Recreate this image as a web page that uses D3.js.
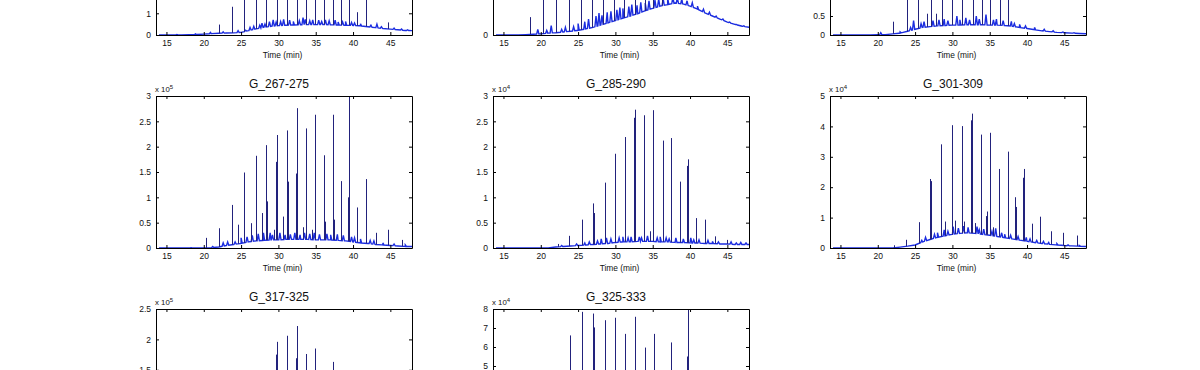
<!DOCTYPE html>
<html>
<head>
<meta charset="utf-8">
<script src="https://cdn.jsdelivr.net/npm/d3@7"></script>
<style>
  body { margin: 0; background: #fff; overflow: hidden; }
  svg text { font-family: "Liberation Sans", Arial, Helvetica, sans-serif; fill: #111; }
</style>
</head>
<body>
<svg id="chart" width="1200" height="370"></svg>
<script>
// ---- data ----
var baseTimes = [14,15,16,17,18,19,20,21,22,23,24,25,26,27,28,29,30,31,32,33,34,35,36,37,38,39,40,41,42,43,44,45,46,47,48];
var xTicks = [15, 20, 25, 30, 35, 40, 45];

var titles = ["G_211-219", "G_231-239", "G_253-259", "G_267-275", "G_285-290", "G_301-309", "G_317-325", "G_325-333"];
var yMax  = [7, 4, 4, 3, 3, 5, 2.5, 8];
var yStep = [1, 1, 0.5, 0.5, 0.5, 1, 0.5, 1];
var yExp  = [4, 4, 4, 5, 4, 4, 5, 4];

// panel A (top left)
var baseA = [0,0,0,0,0.01,0.02,0.04,0.06,0.08,0.09,0.1,0.12,0.2,0.28,0.35,0.4,0.43,0.45,0.46,0.47,0.48,0.48,0.48,0.47,0.46,0.45,0.44,0.42,0.38,0.34,0.3,0.27,0.24,0.21,0.2];
var noiseA = [[16.4,0.02],[18.9,0.05],[20.9,0.12],[22.6,0.15],[24.6,0.2],[25.6,0.22],[26.2,0.35],[26.7,0.4],[27.5,0.45],[27.8,0.55],[28.2,0.5],[28.8,0.62],[29.3,0.7],[29.7,0.6],[30.3,0.62],[30.7,0.72],[31.5,0.68],[32.0,0.62],[32.8,0.66],[33.3,0.8],[33.6,0.72],[34.2,0.66],[34.6,0.7],[35.4,0.68],[35.8,0.62],[36.3,0.7],[36.8,0.65],[37.6,0.68],[38.0,0.6],[38.6,0.6],[39.0,0.62],[39.8,0.58],[40.2,0.55],[41.0,0.52],[42.4,0.45],[43.2,0.5],[43.8,0.38],[45.5,0.32],[46.5,0.28],[47.3,0.24]];
var peaksA = [[22.0,0.48],[23.75,1.3],[25.36,2.4],[26.96,3.2],[28.39,3.9],[29.82,4.5],[31.16,5.0],[32.5,5.6],[33.75,5.2],[34.95,5.8],[36.07,4.8],[37.32,6.0],[38.35,4.2],[39.5,6.5],[40.54,1.05],[41.7,4.0],[44.7,0.58]];

// panel B (top middle)
var baseB = [0,0,0,0,0.01,0.02,0.03,0.05,0.06,0.08,0.1,0.12,0.16,0.2,0.26,0.32,0.38,0.44,0.5,0.56,0.64,0.7,0.76,0.8,0.84,0.82,0.76,0.68,0.58,0.5,0.42,0.34,0.28,0.23,0.2];
var noiseB = [[19.6,0.15],[20.8,0.12],[21.4,0.25],[22.8,0.15],[23.3,0.2],[24.4,0.22],[25.0,0.3],[25.9,0.35],[26.4,0.42],[27.4,0.5],[27.8,0.58],[28.2,0.52],[28.9,0.6],[29.4,0.62],[30.2,0.66],[30.6,0.72],[31.0,0.7],[31.8,0.75],[32.2,0.8],[32.9,0.78],[33.4,0.86],[34.0,0.84],[34.5,0.9],[35.3,0.92],[35.8,0.95],[36.4,0.95],[37.0,0.98],[37.7,1.0],[38.3,0.98],[38.9,0.95],[39.6,0.9],[40.3,0.85],[41.0,0.76],[41.8,0.68],[42.6,0.6],[43.5,0.5],[44.4,0.42],[45.3,0.34],[46.2,0.28],[47.2,0.24]];
var peaksB = [[18.6,0.47],[20.3,1.6],[22.1,1.9],[23.8,1.7],[25.4,1.5],[26.9,1.3],[28.4,1.2],[29.8,1.2],[31.2,1.3],[32.6,1.2],[33.9,1.2],[35.0,1.1],[36.3,1.1]];

// panel C (top right)
var baseC = [0,0,0,0,0,0,0.005,0.01,0.03,0.05,0.1,0.15,0.2,0.22,0.24,0.25,0.26,0.26,0.27,0.27,0.27,0.26,0.26,0.25,0.23,0.2,0.17,0.14,0.11,0.09,0.07,0.06,0.05,0.04,0.03];
var noiseC = [[20.4,0.06],[23.0,0.08],[24.4,0.2],[24.8,0.38],[25.8,0.3],[26.2,0.35],[27.4,0.38],[28.2,0.4],[28.9,0.42],[29.4,0.38],[30.6,0.5],[31.0,0.4],[31.8,0.45],[32.3,0.4],[33.2,0.5],[33.6,0.42],[34.5,0.54],[35.5,0.4],[35.9,0.42],[36.8,0.38],[37.9,0.36],[38.3,0.3],[39.0,0.28],[39.8,0.24],[41.0,0.2],[42.3,0.15],[43.5,0.11],[44.8,0.08],[46.3,0.06]];
var peaksC = [[22.1,0.35],[23.9,1.0],[25.4,1.6],[26.55,0.56],[27.1,2.3],[27.85,0.56],[28.6,2.8],[29.96,3.1],[31.3,3.3],[32.7,3.5],[33.9,3.2],[35.1,3.0],[36.4,2.6],[37.5,2.2]];

// G_267-275 (x10^5)
var baseD = [0,0,0,0,0,0,0,0.005,0.02,0.05,0.07,0.09,0.12,0.14,0.15,0.16,0.16,0.17,0.17,0.17,0.17,0.16,0.16,0.16,0.15,0.14,0.12,0.1,0.09,0.07,0.06,0.05,0.04,0.03,0.03];
var noiseD = [[18.3,0.005],[21.2,0.03],[22.6,0.1],[23.2,0.12],[24.2,0.12],[25.0,0.2],[25.8,0.22],[26.5,0.25],[27.3,0.28],[28.0,0.3],[28.9,0.3],[29.2,0.26],[30.2,0.3],[30.9,0.26],[31.6,0.27],[32.2,0.3],[32.9,0.26],[33.5,0.3],[34.2,0.28],[34.8,0.3],[35.5,0.27],[36.5,0.28],[37.0,0.26],[37.9,0.27],[38.7,0.25],[39.8,0.22],[40.2,0.2],[41.0,0.18],[42.3,0.15],[42.8,0.14],[44.0,0.1],[45.5,0.08],[47.0,0.06]];
var peaksD = [[20.27,0.2],[22.05,0.39],[23.75,0.85],[24.6,0.46],[25.36,1.49],[26.3,0.49],[26.96,1.82],[27.77,0.69],[28.39,2.03],[28.5,0.92],[29.4,0.36],[29.82,2.23],[29.72,1.7],[30.6,0.62],[31.16,2.32],[31.26,1.31],[32.5,2.76],[32.4,1.47],[33.3,0.41],[33.75,2.36],[34.5,0.36],[34.95,2.63],[36.07,1.83],[36.2,0.52],[37.32,2.63],[37.45,0.56],[38.35,1.32],[39.33,1.0],[39.5,2.98],[40.54,0.8],[41.7,1.36],[43.1,0.3],[44.7,0.36],[46.56,0.16]];

// G_285-290 (x10^4)
var baseE = [0,0,0,0,0,0,0,0,0.02,0.03,0.04,0.05,0.06,0.07,0.08,0.09,0.11,0.12,0.12,0.13,0.13,0.13,0.12,0.12,0.11,0.11,0.1,0.1,0.09,0.09,0.08,0.08,0.07,0.07,0.07];
var noiseE = [[22.8,0.05],[24.8,0.08],[25.9,0.1],[26.5,0.12],[27.6,0.14],[28.1,0.18],[28.8,0.2],[29.4,0.18],[30.5,0.2],[31.0,0.22],[31.7,0.2],[32.1,0.22],[33.2,0.22],[33.5,0.2],[34.3,0.24],[35.6,0.2],[36.0,0.22],[36.8,0.2],[37.2,0.18],[38.1,0.2],[39.1,0.18],[40.1,0.2],[40.5,0.16],[41.2,0.16],[42.4,0.15],[43.0,0.13],[43.8,0.12],[45.5,0.12],[46.2,0.1],[46.8,0.11],[47.5,0.1]];
var peaksE = [[22.26,0.08],[23.83,0.24],[25.49,0.56],[27.06,0.88],[27.16,0.69],[28.54,1.29],[29.93,1.86],[30.0,1.8],[31.32,2.19],[32.58,2.73],[32.5,2.57],[33.83,2.62],[34.7,0.33],[35.09,2.72],[36.35,2.12],[37.51,2.17],[38.59,1.31],[38.66,0.9],[39.62,1.62],[39.71,1.75],[40.78,0.59],[41.95,0.56],[43.34,0.23],[44.9,0.16]];

// G_301-309 (x10^4)
var baseF = [0,0,0,0,0,0,0,0,0,0.03,0.06,0.1,0.2,0.28,0.35,0.4,0.45,0.48,0.5,0.48,0.45,0.42,0.38,0.34,0.3,0.26,0.22,0.18,0.15,0.12,0.1,0.08,0.07,0.06,0.05];
var noiseF = [[25.9,0.25],[26.4,0.35],[27.6,0.45],[28.0,0.5],[28.9,0.6],[29.4,0.55],[30.1,0.7],[30.8,0.65],[31.5,0.72],[32.1,0.68],[33.3,0.7],[33.6,0.6],[34.2,0.62],[35.3,0.55],[35.8,0.65],[36.6,0.5],[37.0,0.45],[37.8,0.42],[38.8,0.38],[39.9,0.35],[40.4,0.3],[41.3,0.25],[42.2,0.22],[42.9,0.18],[44.0,0.14],[45.5,0.1],[47.0,0.08]];
var peaksF = [[22.2,0.09],[23.82,0.27],[25.48,0.85],[27.0,2.27],[27.08,2.2],[28.52,3.41],[29.0,0.87],[29.91,4.04],[29.99,3.85],[30.4,0.9],[31.26,4.01],[31.6,0.87],[32.6,4.42],[32.52,4.2],[33.0,0.82],[33.81,3.73],[34.57,1.2],[34.48,1.05],[35.06,3.79],[35.5,0.68],[36.27,2.6],[37.39,3.17],[38.38,1.67],[38.46,1.35],[39.46,2.31],[39.54,2.6],[40.62,0.8],[41.78,1.03],[43.2,0.55],[44.82,0.5],[46.66,0.41]];

// G_317-325 (x10^5)
var baseG = [0,0,0,0,0,0,0,0.005,0.02,0.04,0.06,0.08,0.1,0.12,0.13,0.14,0.14,0.15,0.15,0.15,0.15,0.14,0.14,0.14,0.13,0.12,0.1,0.09,0.08,0.06,0.05,0.04,0.04,0.03,0.03];
var noiseG = [[24.5,0.12],[26.0,0.2],[27.5,0.24],[29.0,0.26],[30.5,0.27],[32.0,0.26],[33.3,0.27],[34.5,0.26],[36.0,0.25],[37.8,0.22],[39.0,0.2],[41.0,0.15],[43.0,0.1],[45.0,0.07]];
var peaksG = [[22.05,0.3],[23.75,0.6],[25.36,1.0],[26.96,1.3],[28.39,1.45],[29.82,1.96],[29.74,1.75],[31.16,2.06],[32.5,2.22],[32.42,1.69],[33.75,1.76],[34.95,1.85],[36.07,1.4],[37.32,1.63],[38.35,1.0],[39.5,1.4],[40.54,0.5],[41.7,0.7],[43.1,0.2],[44.7,0.2]];

// G_325-333 (x10^4)
var baseH = [0,0,0,0,0,0,0,0,0.02,0.05,0.1,0.2,0.3,0.4,0.5,0.55,0.6,0.62,0.63,0.62,0.6,0.57,0.53,0.48,0.43,0.38,0.33,0.28,0.24,0.2,0.17,0.14,0.12,0.1,0.09];
var noiseH = [[25.0,0.4],[26.5,0.6],[28.0,0.8],[29.3,0.9],[30.6,0.95],[32.0,0.95],[33.3,0.9],[34.6,0.85],[36.0,0.75],[37.0,0.7],[38.2,0.6],[40.0,0.45],[41.5,0.35],[43.0,0.25],[45.0,0.18]];
var peaksH = [[22.26,1.5],[23.92,6.61],[25.49,7.85],[27.06,7.76],[27.14,7.03],[28.54,7.41],[29.98,7.54],[29.9,7.2],[31.32,6.69],[32.67,7.59],[32.6,7.03],[33.92,5.97],[33.99,5.7],[35.18,6.69],[36.4,4.5],[37.51,6.24],[38.6,3.5],[39.62,5.5],[39.75,8.0],[40.8,3.0],[41.95,2.5],[43.3,1.2],[44.9,0.8]];

var bases  = [baseA, baseB, baseC, baseD, baseE, baseF, baseG, baseH];
var noises = [noiseA, noiseB, noiseC, noiseD, noiseE, noiseF, noiseG, noiseH];
var peaks  = [peaksA, peaksB, peaksC, peaksD, peaksE, peaksF, peaksG, peaksH];

// ---- layout ----
var xDomain = [13.6, 47.9];
var W = 256, H = 152;
var colLeft = [156, 493, 830];
var rowTop = [-117, 96, 309];
var lineBlue = "#1b2de0", peakBlue = "#22227c";

var svg = d3.select("#chart");
var fontFam = '"Liberation Sans", Arial, Helvetica, sans-serif';

titles.forEach(function(title, i) {
    var left = colLeft[i % 3], top = rowTop[Math.floor(i / 3)];
    var g = svg.append("g").attr("transform", "translate(" + left + "," + top + ")");

    var x = d3.scaleLinear().domain(xDomain).range([0, W]);
    var y = d3.scaleLinear().domain([0, yMax[i]]).range([H, 0]);
    var base = d3.scaleLinear().domain(baseTimes).range(bases[i]).clamp(true);
    var yTicks = d3.range(0, yMax[i] + 1e-9, yStep[i]);

    g.append("clipPath").attr("id", "clip" + i)
        .append("rect").attr("width", W).attr("height", H);
    var plot = g.append("g").attr("clip-path", "url(#clip" + i + ")");

    // slow baseline with the small noise spikes on top
    var pts = baseTimes.map(function(t, j) { return [t, bases[i][j]]; });
    noises[i].forEach(function(d) {
        pts.push([d[0] - 0.15, base(d[0] - 0.15)], [d[0], d[1]], [d[0] + 0.15, base(d[0] + 0.15)]);
    });
    pts.sort(function(a, b) { return a[0] - b[0]; });

    plot.append("path")
        .datum(pts)
        .attr("fill", "none")
        .attr("stroke", lineBlue)
        .attr("stroke-width", 1.4)
        .attr("d", d3.line().x(function(d) { return x(d[0]); }).y(function(d) { return y(d[1]); }));

    // the tall alkane peaks
    plot.selectAll("line.pk")
        .data(peaks[i])
        .join("line")
        .attr("class", "pk")
        .attr("x1", function(d) { return Math.round(x(d[0])) + 0.5; })
        .attr("x2", function(d) { return Math.round(x(d[0])) + 0.5; })
        .attr("y1", function(d) { return y(base(d[0])); })
        .attr("y2", function(d) { return y(d[1]); })
        .attr("stroke", peakBlue)
        .attr("stroke-width", 1);

    // axes, ticks point inwards like matlab
    var fmt = d3.format("~g");
    function style(sel) {
        sel.attr("font-size", 8.5).attr("font-family", fontFam);
        sel.select(".domain").attr("stroke", "#000");
        sel.selectAll(".tick line").attr("stroke", "#000");
    }
    g.append("g").call(d3.axisLeft(y).tickValues(yTicks).tickSizeInner(-3).tickSizeOuter(0).tickPadding(5).tickFormat(fmt)).call(style);
    g.append("g").attr("transform", "translate(" + W + ",0)")
        .call(d3.axisRight(y).tickValues(yTicks).tickSizeInner(-3).tickSizeOuter(0).tickFormat("")).call(style);
    g.append("g").call(d3.axisTop(x).tickValues(xTicks).tickSizeInner(-3).tickSizeOuter(0).tickFormat("")).call(style);
    g.append("g").attr("transform", "translate(0," + H + ")")
        .call(d3.axisBottom(x).tickValues(xTicks).tickSizeInner(-3).tickSizeOuter(0).tickPadding(4.5).tickFormat(fmt)).call(style);

    // texts
    g.append("text")
        .attr("x", W / 2 - 5).attr("y", -8)
        .attr("text-anchor", "middle")
        .attr("font-size", 12)
        .text(title);

    var ex = g.append("text").attr("x", -1).attr("y", -4).attr("font-size", 7.8);
    ex.append("tspan").text("x 10");
    ex.append("tspan").attr("dy", -3).attr("font-size", 6).text(yExp[i]);

    g.append("text")
        .attr("x", W / 2 - 1.5).attr("y", H + 23)
        .attr("text-anchor", "middle")
        .attr("font-size", 8.4)
        .text("Time (min)");
});

// the page shows only a slice of the figure: drop labels lying wholly outside it
svg.selectAll("text").each(function() {
    var r = this.getBoundingClientRect();
    if (r.bottom <= 0 || r.top >= 370) d3.select(this).remove();
});
</script>
</body>
</html>
